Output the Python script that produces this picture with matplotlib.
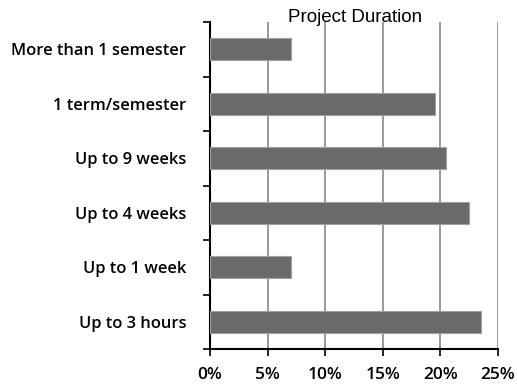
import matplotlib
matplotlib.use("Agg")
import matplotlib.pyplot as plt
import numpy as np

categories = ["Up to 3 hours", "Up to 1 week", "Up to 4 weeks",
              "Up to 9 weeks", "1 term/semester", "More than 1 semester"]
shares = [23.5, 7.0, 22.5, 20.5, 19.5, 7.0]
x_ticks = [0, 5, 10, 15, 20, 25]
x_labels = ["0%", "5%", "10%", "15%", "20%", "25%"]

fig = plt.figure(figsize=(5.17, 3.87), dpi=100)
ax = fig.add_axes([210 / 517, 1 - 349 / 387, 288 / 517, 327 / 387])

y = np.arange(len(categories))
ax.barh(y, shares, height=0.4, color="#6a6a6a", edgecolor="#a0a0a0", linewidth=0.8, zorder=3)

ax.set_xlim(0, 25)
ax.set_ylim(-0.5, len(categories) - 0.5)
ax.set_xticks(x_ticks)
ax.set_xticklabels(x_labels, fontsize=12.5, fontfamily="Open Sans", fontweight="semibold")
ax.set_yticks(y)
ax.set_yticklabels(categories, fontsize=11.9, fontfamily="Open Sans", fontweight="semibold")
ax.tick_params(axis="y", length=0, pad=17)
ax.set_yticks(np.arange(len(categories) + 1) - 0.5, minor=True)
ax.tick_params(axis="y", which="minor", length=5, width=1.2, direction="out")
ax.tick_params(axis="x", length=5, width=1.2, direction="out", pad=8)

ax.grid(axis="x", color="#888888", linewidth=1.2, zorder=0)
for side in ["top", "right"]:
    ax.spines[side].set_visible(False)
for side in ["left", "bottom"]:
    ax.spines[side].set_linewidth(1.5)

fig.text(355 / 517, 1 - 17 / 387, "Project Duration", ha="center", va="center",
         fontsize=13.5, fontfamily="Liberation Sans")

fig.savefig("out.png", dpi=100)
